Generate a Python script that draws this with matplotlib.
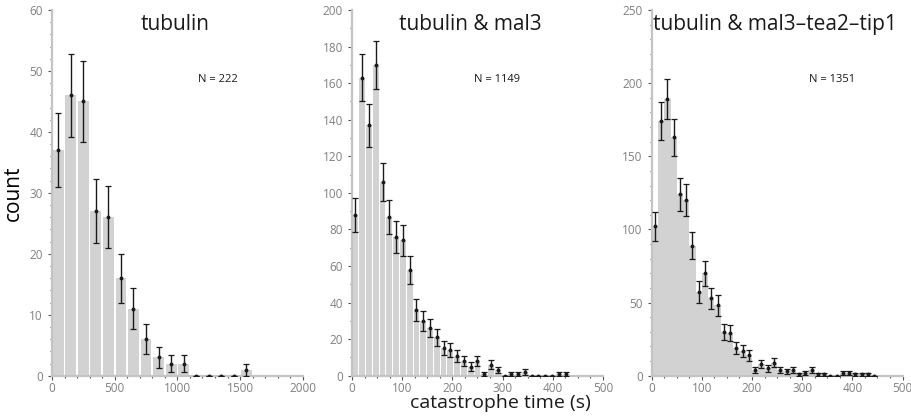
import numpy as np
import matplotlib
matplotlib.use("Agg")
import matplotlib.pyplot as plt
from matplotlib.ticker import MultipleLocator

plt.rcParams['font.family'] = ['Open Sans', 'DejaVu Sans']

# panel 1: tubulin, bins of 100 s
counts1 = [37, 46, 45, 27, 26, 16, 11, 6, 3, 2, 2, 0, 0, 0, 0, 1]
# panel 2: tubulin & mal3, bins of 500/37 s
counts2 = [88, 163, 137, 170, 106, 87, 76, 74, 58, 36, 30, 26, 21, 15, 14, 11,
           8, 5, 8, 1, 6, 3, 0, 1, 1, 2, 0, 0, 0, 0, 1, 1]
# panel 3: tubulin & mal3-tea2-tip1, bins of 12.5 s
counts3 = [102, 174, 189, 163, 124, 120, 89, 57, 70, 53, 48, 30, 29, 19, 17, 14,
           4, 8, 5, 9, 4, 3, 4, 1, 2, 4, 1, 1, 0, 0, 2, 2, 1, 1, 1, 0]
bin_widths = [100, 500 / 37, 12.5]

titles = ["tubulin", "tubulin & mal3", "tubulin & mal3\u2013tea2\u2013tip1"]
n_labels = ["N = 222", "N = 1149", "N = 1351"]
xmax = [2000, 500, 500]
ymax = [60, 200, 250]

fig = plt.figure(figsize=(9.12, 4.2), dpi=100)
lefts = [0.057, 0.386, 0.7146]
panels = [counts1, counts2, counts3]
ymaj = [10, 20, 50]
ymin_ = [2, 10, 10]
xmaj = [500, 100, 100]
xmin_ = [100, 25, 25]
title_x = [0.49, 0.47, 0.49]
n_x = [0.66, 0.58, 0.72]
gaps = [0.86, 0.86, 1.0]

for i in range(3):
    ax = fig.add_axes([lefts[i], 0.1055, 0.275, 0.8707])
    c = np.array(panels[i], dtype=float)
    w = bin_widths[i]
    centers = w / 2 + w * np.arange(len(c))
    ax.bar(centers, c, width=w * gaps[i], color='#d2d2d3', linewidth=0, zorder=1)
    err = np.sqrt(c)
    ax.errorbar(centers, c, yerr=err, fmt='o', ms=1.8, color='#1a1a1a',
                ecolor='#1a1a1a', elinewidth=1.0, capsize=2.2, capthick=0.9, zorder=3)
    ax.set_xlim(0, xmax[i])
    ax.set_ylim(0, ymax[i])
    ax.xaxis.set_major_locator(MultipleLocator(xmaj[i]))
    ax.xaxis.set_minor_locator(MultipleLocator(xmin_[i]))
    ax.yaxis.set_major_locator(MultipleLocator(ymaj[i]))
    ax.yaxis.set_minor_locator(MultipleLocator(ymin_[i]))
    for s in ['top', 'right']:
        ax.spines[s].set_visible(False)
    for s in ['left', 'bottom']:
        ax.spines[s].set_color('#c4c4c4')
        ax.spines[s].set_linewidth(1.6)
    ax.tick_params(which='major', length=3, width=0.8, color='#555555',
                   labelcolor='#808080', labelsize=8.5)
    ax.tick_params(axis='x', which='major', pad=1.5)
    ax.tick_params(which='minor', length=1.5, width=0.8, color='#555555')
    ax.text(title_x[i], 0.944, titles[i], transform=ax.transAxes, ha='center',
            va='baseline', fontsize=15, color='#1a1a1a')
    ax.text(n_x[i], 0.81, n_labels[i], transform=ax.transAxes, ha='center',
            va='center', fontsize=8, color='#1a1a1a')
    if i == 0:
        ax.set_ylabel('count', fontsize=15, labelpad=4)

fig.text(500 / 912, 1 - 403 / 420, 'catastrophe time (s)', ha='center',
         va='center', fontsize=14, color='#1a1a1a')

fig.savefig('out.png', dpi=100)
